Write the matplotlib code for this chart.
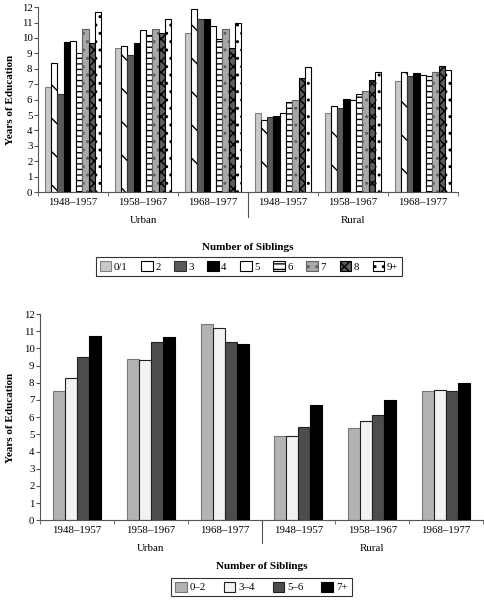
import numpy as np
import matplotlib
matplotlib.use("Agg")
from matplotlib import pyplot as plt
from matplotlib.transforms import blended_transform_factory

plt.rcParams['font.family'] = ['Liberation Serif', 'DejaVu Serif']
plt.rcParams['hatch.linewidth'] = 1.0

cohorts = ['1948–1957', '1958–1967', '1968–1977'] * 2
areas = ['Urban', 'Rural']

# top panel: single sibling counts
top_labels = ['0/1', '2', '3', '4', '5', '6', '7', '8', '9+']
top_values = [
    [6.8, 9.35, 10.3, 5.15, 5.1, 7.2],     # 0/1
    [8.35, 9.45, 11.85, 4.65, 5.6, 7.8],   # 2
    [6.35, 8.9, 11.25, 4.85, 5.45, 7.5],   # 3
    [9.75, 9.7, 11.2, 4.95, 6.05, 7.7],    # 4
    [9.8, 10.5, 10.8, 5.1, 6.0, 7.6],      # 5
    [9.0, 10.2, 9.95, 5.85, 6.35, 7.5],    # 6
    [10.6, 10.6, 10.55, 6.0, 6.55, 7.8],   # 7
    [9.7, 10.35, 9.35, 7.4, 7.25, 8.2],    # 8
    [11.65, 11.2, 11.0, 8.1, 7.8, 7.95],   # 9+
]
top_face = ['#c8c8c8', 'white', '#5a5a5a', 'black', 'white', 'white', '#a8a8a8', '#5c5c5c', 'white']
top_edge = ['#808080', 'black', '#303030', 'black', 'black', 'black', '#606060', 'black', 'black']
top_hatch = [None, '\\', None, None, None, '---', '..', 'xxx', '..']

# bottom panel: grouped sibling counts
bot_labels = ['0–2', '3–4', '5–6', '7+']
bot_values = [
    [7.55, 9.4, 11.4, 4.9, 5.35, 7.55],
    [8.3, 9.3, 11.2, 4.9, 5.75, 7.6],
    [9.5, 10.35, 10.4, 5.4, 6.1, 7.55],
    [10.7, 10.65, 10.25, 6.7, 7.0, 8.0],
]
bot_face = ['#b3b3b3', '#f2f2f2', '#4d4d4d', 'black']
bot_edge = ['#777777', '#202020', '#202020', 'black']

fig = plt.figure(figsize=(4.85, 6.06), dpi=100)


def draw_panel(ax, labels, values, faces, edges, hatches, total_w, sep_len, area_y):
    n = len(labels)
    w = total_w / n
    x = np.arange(len(cohorts)) + 0.5
    for i in range(n):
        ax.bar(x - total_w / 2 + w * (i + 0.5), values[i], w,
               color=faces[i], edgecolor=edges[i], linewidth=0.8,
               hatch=hatches[i], label=labels[i])
    ax.set_xlim(0, len(cohorts))
    ax.set_ylim(0, 12)
    ax.set_yticks(range(0, 13))
    ax.spines['top'].set_visible(False)
    ax.spines['right'].set_visible(False)
    ax.spines['left'].set_color('#555555')
    ax.spines['bottom'].set_color('#555555')
    ax.set_xticks(x)
    ax.set_xticklabels(cohorts, fontsize=7.8)
    ax.tick_params(axis='x', length=0, pad=4)
    ax.set_xticks(range(0, len(cohorts) + 1), minor=True)
    ax.tick_params(axis='x', which='minor', length=3, direction='out', color='#555555')
    ax.tick_params(axis='y', length=3, direction='out', labelsize=7.8, pad=1, color='#555555')
    tr = blended_transform_factory(ax.transData, ax.transAxes)
    ax.plot([3, 3], [0, -sep_len], transform=tr, color='#555555', lw=0.8, clip_on=False)
    ax.text(1.5, area_y, areas[0], transform=tr, ha='center', va='center', fontsize=7.8)
    ax.text(4.5, area_y, areas[1], transform=tr, ha='center', va='center', fontsize=7.8)


ax1 = fig.add_axes([0.0784, 0.683, 0.8656, 0.3053])
draw_panel(ax1, top_labels, top_values, top_face, top_edge, top_hatch, 0.81, 0.135, -0.152)
fig.text(0.021, 0.835, 'Years of Education', rotation=90, ha='center', va='center',
         fontsize=8, fontweight='bold')
fig.text(0.51, 0.592, 'Number of Siblings', ha='center', va='center', fontsize=8, fontweight='bold')
leg1 = ax1.legend(loc='center', bbox_to_anchor=(0.513, 0.5602), bbox_transform=fig.transFigure,
                  ncol=9, fontsize=7.8, frameon=True, fancybox=False, edgecolor='black',
                  handlelength=1.1, handleheight=1.1, handletextpad=0.2, columnspacing=1.25,
                  borderpad=0.35)
leg1.get_frame().set_linewidth(0.8)

ax2 = fig.add_axes([0.0825, 0.1414, 0.9134, 0.3404])
draw_panel(ax2, bot_labels, bot_values, bot_face, bot_edge, [None] * 4, 0.65, 0.11, -0.136)
fig.text(0.021, 0.31, 'Years of Education', rotation=90, ha='center', va='center',
         fontsize=8, fontweight='bold')
fig.text(0.54, 0.0644, 'Number of Siblings', ha='center', va='center', fontsize=8, fontweight='bold')
leg2 = ax2.legend(loc='center', bbox_to_anchor=(0.539, 0.0314), bbox_transform=fig.transFigure,
                  ncol=4, fontsize=7.8, frameon=True, fancybox=False, edgecolor='black',
                  handlelength=1.1, handleheight=1.1, handletextpad=0.3, columnspacing=1.6,
                  borderpad=0.35)
leg2.get_frame().set_linewidth(0.8)

fig.savefig('out.png', dpi=100)
